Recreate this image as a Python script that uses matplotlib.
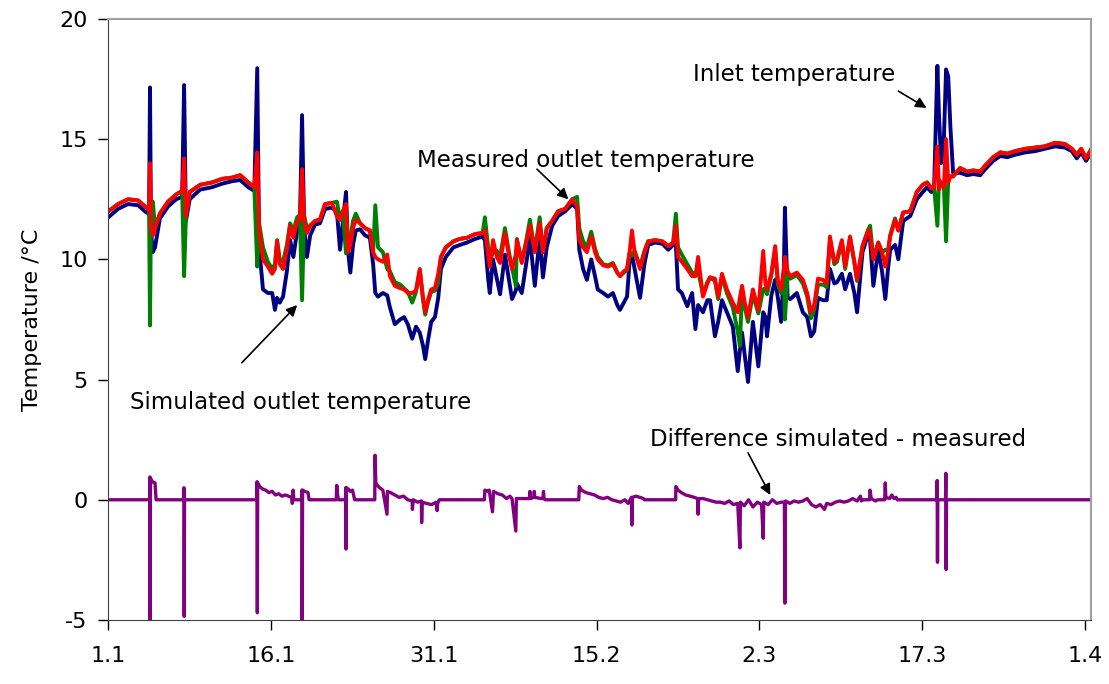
#!/usr/bin/env python3
# Inlet / outlet temperatures, simulated vs measured, Jan - Mar
import matplotlib
matplotlib.use("Agg")
import matplotlib.pyplot as plt

# ───────────────────────────────────────────────────────────────
#  Data (day 0 = 1.1)
# ───────────────────────────────────────────────────────────────

days = [
    0.0, 0.9, 1.8, 2.75, 3.5, 3.75, 3.84, 3.93, 4.1, 4.3, 4.75, 5.5, 6.25, 6.8, 6.98, 7.15,
    7.5, 8.45, 9.55, 10.5, 11.4, 12.15, 12.9, 13.45, 13.72, 13.9, 14.25, 14.7, 15.1, 15.35,
    15.55, 15.8, 16.1, 16.45, 16.75, 17.05, 17.4, 17.65, 17.85, 18.05, 18.3, 18.6, 19.05,
    19.5, 19.97, 20.6, 21.06, 21.35, 21.6, 21.9, 22.1, 22.3, 22.55, 22.8, 23.2, 23.65, 24.1,
    24.4, 24.6, 24.85, 25.3, 25.7, 25.95, 26.4, 26.9, 27.25, 27.6, 28.0, 28.35, 28.7, 29.0,
    29.2, 29.45, 29.75, 30.1, 30.4, 30.65, 31.1, 31.8, 32.4, 33.05, 33.8, 34.5, 34.7, 35.0,
    35.15, 35.45, 35.8, 36.1, 36.55, 36.9, 37.2, 37.55, 37.65, 38.1, 38.5, 38.85, 39.3,
    39.75, 40.05, 40.4, 40.9, 41.45, 42.1, 42.75, 43.2, 43.4, 43.75, 44.1, 44.5, 44.85,
    45.1, 45.6, 46.05, 46.5, 46.9, 47.15, 47.5, 47.8, 48.05, 48.25, 48.5, 49.0, 49.4, 49.75,
    50.4, 51.05, 51.6, 52.05, 52.3, 52.5, 52.85, 53.35, 53.8, 54.1, 54.35, 54.8, 55.2,
    55.45, 55.9, 56.2, 56.55, 57.0, 57.55, 58.0, 58.2, 58.4, 58.65, 58.95, 59.4, 59.9,
    60.35, 60.55, 60.7, 61.1, 61.45, 61.7, 62.0, 62.25, 62.35, 62.6, 62.85, 63.45, 64.0,
    64.4, 64.75, 65.05, 65.4, 65.85, 66.2, 66.5, 66.9, 67.15, 67.6, 67.9, 68.35, 68.75,
    69.0, 69.5, 70.05, 70.2, 70.5, 70.95, 71.3, 71.6, 71.85, 72.05, 72.5, 72.8, 73.25,
    73.9, 74.5, 75.05, 75.45, 75.85, 76.1, 76.4, 76.55, 76.75, 77.0, 77.2, 77.4, 77.6,
    77.85, 78.5, 79.15, 79.7, 80.35, 80.8, 81.55, 82.2, 82.85, 83.55, 84.5, 85.4, 86.3,
    87.25, 88.15, 88.8, 89.25, 89.65, 90.1, 90.6,
]

inlet = [
    11.75, 12.1, 12.3, 12.25, 11.95, 11.9, 17.15, 11.2, 10.3, 10.5, 11.7, 12.2, 12.5, 12.6, 17.25, 11.6,
    12.5, 12.9, 13.0, 13.15, 13.25, 13.3, 13.0, 12.85, 17.95, 10.5, 8.75, 8.6, 8.6, 7.9,
    8.4, 8.2, 8.45, 9.5, 10.8, 10.1, 11.2, 11.4, 16.0, 11.3, 10.1, 11.0, 11.45,
    11.5, 12.1, 12.15, 12.0, 10.4, 11.5, 12.8, 10.3, 9.45, 10.6, 11.2, 11.25, 11.0, 10.9,
    9.8, 8.6, 8.45, 8.6, 8.5, 8.0, 7.3, 7.5, 7.6, 7.3, 6.7, 7.2, 6.95, 6.4,
    5.85, 6.6, 7.4, 7.6, 8.4, 9.6, 10.1, 10.5, 10.6, 10.7, 10.85, 10.95, 10.8, 9.2,
    8.6, 10.0, 9.2, 8.55, 10.2, 9.2, 8.35, 8.7, 9.0, 8.6, 9.8, 10.9, 8.9,
    10.9, 9.25, 10.5, 11.4, 11.8, 12.0, 12.3, 12.1, 10.4, 9.6, 9.15, 10.0, 9.3,
    8.75, 8.6, 8.45, 8.6, 8.1, 7.9, 8.2, 8.45, 10.0, 10.2, 9.6, 8.4, 9.8, 10.6,
    10.7, 10.65, 10.4, 10.6, 10.6, 8.75, 8.6, 8.05, 8.6, 7.1, 8.1, 7.8, 8.3,
    8.3, 6.8, 7.4, 8.3, 7.8, 7.2, 5.35, 6.2, 6.95, 6.0, 4.9, 7.4, 5.55,
    7.8, 7.6, 6.8, 8.5, 9.15, 8.4, 7.4, 9.5, 12.15, 8.4, 8.35, 8.6, 7.8,
    7.6, 6.8, 7.0, 8.4, 8.3, 8.3, 9.6, 9.0, 9.05, 9.4, 8.75, 9.4, 8.6,
    7.8, 10.3, 11.1, 10.8, 8.9, 10.4, 9.5, 8.35, 9.6, 10.4, 10.6, 10.0, 11.6,
    11.8, 12.5, 12.8, 13.0, 12.8, 13.0, 18.05, 16.0, 14.0, 15.0, 17.9, 17.6, 15.5,
    13.6, 13.6, 13.5, 13.55, 13.5, 13.75, 14.1, 14.3, 14.25, 14.35, 14.45, 14.5, 14.6,
    14.7, 14.65, 14.5, 14.2, 14.45, 14.1, 14.45,
]

outlet_measured = [
    12.0, 12.3, 12.5, 12.45, 12.15, 12.05, 14.0, 11.3, 11.0, 11.3, 11.9, 12.4, 12.7, 12.85, 14.2, 11.8,
    12.8, 13.1, 13.2, 13.35, 13.4, 13.5, 13.2, 13.0, 14.45, 11.2, 10.0, 9.7, 9.4, 9.6,
    10.75, 9.8, 9.6, 10.4, 11.4, 10.9, 11.6, 11.65, 13.75, 11.6, 11.1, 11.4, 11.6,
    11.65, 12.3, 12.35, 11.8, 11.65, 12.0, 12.3, 10.3, 10.6, 11.3, 11.65, 11.5, 11.3, 11.2,
    10.3, 10.1, 10.0, 9.9, 10.2, 9.3, 8.9, 8.8, 8.75, 8.6, 8.6, 8.7, 9.6, 8.4,
    7.8, 8.3, 8.75, 8.8, 9.4, 10.1, 10.5, 10.75, 10.85, 10.9, 11.05, 11.1, 11.2, 10.2,
    9.7, 10.8, 10.1, 9.85, 11.1, 10.2, 9.6, 10.2, 10.8, 9.85, 10.7, 11.4, 10.3,
    11.5, 10.3, 11.3, 11.6, 12.0, 12.1, 12.5, 12.2, 10.8, 10.5, 10.3, 10.95, 10.3,
    10.0, 9.75, 9.7, 9.8, 9.45, 9.3, 9.5, 9.6, 10.35, 11.2, 10.3, 9.6, 10.3, 10.75,
    10.8, 10.75, 10.55, 10.7, 11.4, 10.1, 9.9, 9.6, 9.3, 9.3, 10.1, 8.45, 9.0,
    9.25, 9.2, 8.45, 9.4, 8.75, 8.2, 7.8, 8.4, 8.9, 8.2, 7.6, 8.75, 7.9,
    10.35, 9.0, 8.75, 9.4, 10.55, 9.1, 8.75, 9.6, 10.1, 9.5, 9.3, 9.45, 9.15,
    8.6, 7.8, 8.1, 9.2, 9.15, 9.0, 10.95, 9.9, 10.0, 10.8, 9.7, 10.95, 9.9,
    9.15, 10.55, 11.25, 11.0, 10.0, 10.7, 10.3, 9.7, 10.3, 10.95, 11.65, 11.2, 11.95,
    12.0, 12.8, 13.1, 13.2, 12.95, 13.0, 14.7, 12.9, 13.2, 13.0, 15.0, 13.2, 13.45,
    13.45, 13.8, 13.65, 13.7, 13.65, 13.9, 14.25, 14.45, 14.4, 14.5, 14.6, 14.65, 14.7,
    14.85, 14.8, 14.6, 14.35, 14.6, 14.2, 14.6,
]

outlet_simulated = [
    12.0, 12.3, 12.5, 12.45, 12.15, 12.05, 7.25, 12.0, 12.4, 11.3, 11.9, 12.4, 12.7, 12.85, 9.3, 11.8,
    12.8, 13.1, 13.2, 13.35, 13.4, 13.5, 13.2, 13.0, 9.7, 11.5, 10.5, 9.9, 9.6, 9.8,
    10.8, 10.0, 9.9, 10.6, 11.5, 11.2, 11.75, 11.85, 8.3, 11.8, 11.3, 11.4, 11.6,
    11.65, 12.3, 12.35, 12.4, 11.65, 12.0, 10.25, 10.6, 10.9, 11.6, 11.9, 11.5, 11.3, 11.2,
    10.3, 12.25, 10.5, 10.3, 9.6, 9.5, 9.05, 8.95, 8.8, 8.65, 8.2, 8.65, 9.55, 8.3,
    7.7, 8.2, 8.65, 8.7, 9.0, 10.1, 10.5, 10.75, 10.85, 10.9, 11.05, 11.1, 11.75, 10.5,
    9.95, 10.3, 10.35, 10.1, 11.3, 10.35, 9.65, 8.9, 10.85, 9.9, 10.75, 11.65, 10.35,
    11.75, 10.3, 11.3, 11.6, 12.0, 12.1, 12.5, 12.6, 11.3, 10.75, 10.5, 11.15, 10.45,
    10.1, 9.8, 9.75, 9.85, 9.45, 9.3, 9.45, 9.55, 10.3, 10.15, 10.35, 9.7, 10.35, 10.75,
    10.8, 10.75, 10.55, 10.7, 11.9, 10.5, 10.2, 9.8, 9.45, 9.4, 9.5, 8.55, 9.05,
    9.25, 9.1, 8.35, 9.3, 8.6, 8.0, 7.0, 6.4, 8.7, 8.0, 7.4, 8.55, 7.75,
    8.75, 8.8, 8.55, 9.35, 10.4, 8.95, 8.6, 9.45, 7.5, 9.35, 9.2, 9.35, 9.0,
    8.45, 7.55, 7.9, 8.95, 8.95, 8.85, 10.8, 9.8, 9.9, 10.75, 9.6, 10.9, 9.85,
    9.1, 10.55, 11.25, 11.4, 10.0, 10.7, 10.3, 10.4, 10.35, 11.0, 11.7, 11.2, 11.95,
    12.0, 12.8, 13.1, 13.2, 12.95, 13.0, 11.4, 13.3, 13.2, 13.0, 10.75, 13.3, 13.45,
    13.45, 13.8, 13.65, 13.7, 13.65, 13.9, 14.25, 14.45, 14.4, 14.5, 14.6, 14.65, 14.7,
    14.85, 14.8, 14.6, 14.35, 14.6, 14.2, 14.6,
]

diff_days = [
    0.0, 3.8, 3.83, 3.85, 3.88, 4.05, 4.3, 4.4, 6.95, 6.97, 6.99, 7.02,
    13.68, 13.7, 13.73, 13.76, 13.95, 14.2, 14.5, 14.8, 15.1, 15.4, 15.7, 16.0, 16.3,
    16.6, 16.9, 16.95, 17.0, 17.03, 17.1, 17.82, 17.84, 17.86, 17.9, 18.1, 18.4, 18.5,
    21.0, 21.05, 21.1, 21.2, 21.85, 21.88, 21.9, 21.93, 22.1, 22.3, 22.5, 22.65, 22.7,
    24.55, 24.58, 24.65, 24.8, 25.0, 25.3, 25.68, 25.72, 26.0, 26.4, 26.8, 27.2, 27.6,
    28.0, 28.02, 28.1, 28.5, 28.85, 28.87, 28.92, 29.3, 29.8, 30.2, 30.3, 30.35, 30.5,
    34.65, 34.7, 35.0, 35.1, 35.4, 35.5, 35.9, 36.3, 36.7, 37.0, 37.2, 37.55, 37.6,
    38.0, 38.4, 38.8, 38.85, 38.9, 39.2, 39.25, 39.3, 39.9, 40.05, 40.1, 40.15, 40.25,
    43.35, 43.4, 43.6, 44.0, 44.4, 44.8, 45.2, 45.6, 46.0, 46.4, 46.8, 47.2, 47.6,
    47.9, 48.2, 48.25, 48.3, 48.6, 49.0, 49.3, 49.4,
    52.28, 52.3, 52.5, 52.8, 53.2, 53.6, 54.0, 54.3, 54.35, 54.4, 54.8, 55.2, 55.6,
    56.0, 56.4, 56.8, 57.2, 57.6, 58.0, 58.2, 58.25, 58.6, 59.0, 59.4, 59.8, 60.2,
    60.35, 60.4, 60.8, 61.2, 61.6, 62.0, 62.3, 62.35, 62.4, 62.8, 63.2, 63.6, 64.0,
    64.4, 64.8, 65.2, 65.6, 66.0, 66.2, 66.6, 67.0, 67.4, 67.8, 68.2, 68.6, 69.0,
    69.3, 69.4, 69.5, 70.15, 70.2, 70.3, 70.7, 70.9, 71.55, 71.6, 71.65, 72.0, 72.2,
    72.4, 72.6, 72.7, 76.35, 76.38, 76.41, 76.44, 77.15, 77.18, 77.21, 77.24, 90.55,
]

diff_vals = [
    0.0, 0.0, 0.95, -5.0, 0.9, 0.75, 0.7, 0.0, 0.0, 0.5, -4.85, 0.0,
    0.0, 0.75, -4.7, 0.7, 0.55, 0.45, 0.4, 0.3, 0.35, 0.2, 0.25, 0.15, 0.2,
    0.15, 0.1, -0.15, 0.1, 0.4, 0.0, 0.0, 0.4, -5.0, 0.4, 0.35, 0.3, 0.0,
    0.0, 0.6, 0.3, 0.0, 0.0, 0.5, -2.05, 0.5, 0.45, 0.35, 0.4, 0.1, 0.0,
    0.0, 1.85, 0.7, 0.6, 0.5, 0.4, -0.6, 0.35, 0.3, 0.2, 0.1, 0.15, 0.0,
    -0.05, -0.4, 0.0, -0.1, -0.05, -0.95, -0.1, -0.15, -0.2, -0.1, -0.45, -0.15, 0.0,
    0.0, 0.4, 0.35, 0.4, -0.5, 0.35, 0.25, 0.2, 0.05, 0.15, 0.05, -1.3, 0.05,
    0.05, 0.05, 0.05, 0.35, 0.05, 0.1, 0.35, 0.1, 0.05, 0.05, 0.35, 0.05, 0.0,
    0.0, 0.55, 0.4, 0.3, 0.25, 0.2, 0.1, 0.05, 0.1, 0.0, -0.05, -0.1, 0.0,
    -0.15, 0.1, -1.05, 0.1, 0.15, 0.1, 0.05, 0.0,
    0.0, 0.55, 0.4, 0.3, 0.2, 0.15, 0.1, 0.05, -0.6, 0.05, 0.05, 0.0, -0.05,
    -0.1, -0.1, -0.15, -0.05, -0.2, -0.15, -2.0, -0.1, -0.25, 0.0, -0.3, -0.1, -0.2,
    -1.6, -0.1, -0.2, 0.0, -0.15, -0.1, -0.1, -4.3, -0.05, -0.15, -0.05, -0.1, -0.05,
    0.05, -0.2, -0.3, -0.2, -0.4, -0.15, -0.2, -0.1, -0.05, -0.1, -0.05, 0.05, -0.05,
    0.15, -0.05, 0.0, 0.0, 0.4, 0.05, -0.05, 0.0, 0.0, 0.7, 0.1, 0.05, 0.2,
    0.05, 0.1, 0.0, 0.0, 0.8, -2.6, 0.0, 0.0, 1.1, -2.9, 0.0, 0.0,
]

tick_days = [0, 15, 30, 45, 60, 75, 90]
tick_labels = ["1.1", "16.1", "31.1", "15.2", "2.3", "17.3", "1.4"]

# ───────────────────────────────────────────────────────────────
#  Plot
# ───────────────────────────────────────────────────────────────

plt.rcParams["font.family"] = "DejaVu Sans"
plt.rcParams["axes.unicode_minus"] = False

fig = plt.figure(figsize=(11.09, 6.84), dpi=100)
ax = fig.add_axes([0.0977, 0.0936, 0.8860, 0.8787])

ax.plot(days, inlet, color="#000080", lw=2.8, solid_joinstyle="round")
ax.plot(days, outlet_simulated, color="#008000", lw=2.8, solid_joinstyle="round")
ax.plot(days, outlet_measured, color="#FF0000", lw=2.8, solid_joinstyle="round")
ax.plot(diff_days, diff_vals, color="#800080", lw=2.4, solid_joinstyle="round")

ax.set_xlim(0, 90.55)
ax.set_ylim(-5, 20)
ax.set_xticks(tick_days)
ax.set_xticklabels(tick_labels)
ax.set_yticks([-5, 0, 5, 10, 15, 20])
ax.tick_params(direction="out", length=7, width=1, labelsize=16, pad=8)
ax.tick_params(axis="x", pad=12)
ax.set_ylabel("Temperature /°C", fontsize=16, labelpad=12)

for side in ("left", "bottom"):
    ax.spines[side].set_color("#404040")
for side in ("top", "right"):
    ax.spines[side].set_color("#a0a0a0")
    ax.spines[side].set_linewidth(1.5)

arrow = dict(arrowstyle="-|>", color="black", lw=1.2, mutation_scale=16,
             shrinkA=0, shrinkB=0)

ax.text(53.9, 17.7, "Inlet temperature", fontsize=16.5, va="center")
ax.annotate("", xy=(75.4, 16.3), xytext=(72.8, 17.0), arrowprops=arrow)

ax.text(28.45, 14.1, "Measured outlet temperature", fontsize=16.5, va="center")
ax.annotate("", xy=(42.4, 12.5), xytext=(39.5, 13.75), arrowprops=arrow)

ax.text(2.0, 4.05, "Simulated outlet temperature", fontsize=16.5, va="center")
ax.annotate("", xy=(17.4, 8.1), xytext=(12.3, 5.7), arrowprops=arrow)

ax.text(49.9, 2.5, "Difference simulated - measured", fontsize=16.5, va="center")
ax.annotate("", xy=(61.0, 0.2), xytext=(58.95, 1.95), arrowprops=arrow)

fig.savefig("out.png", dpi=100)
